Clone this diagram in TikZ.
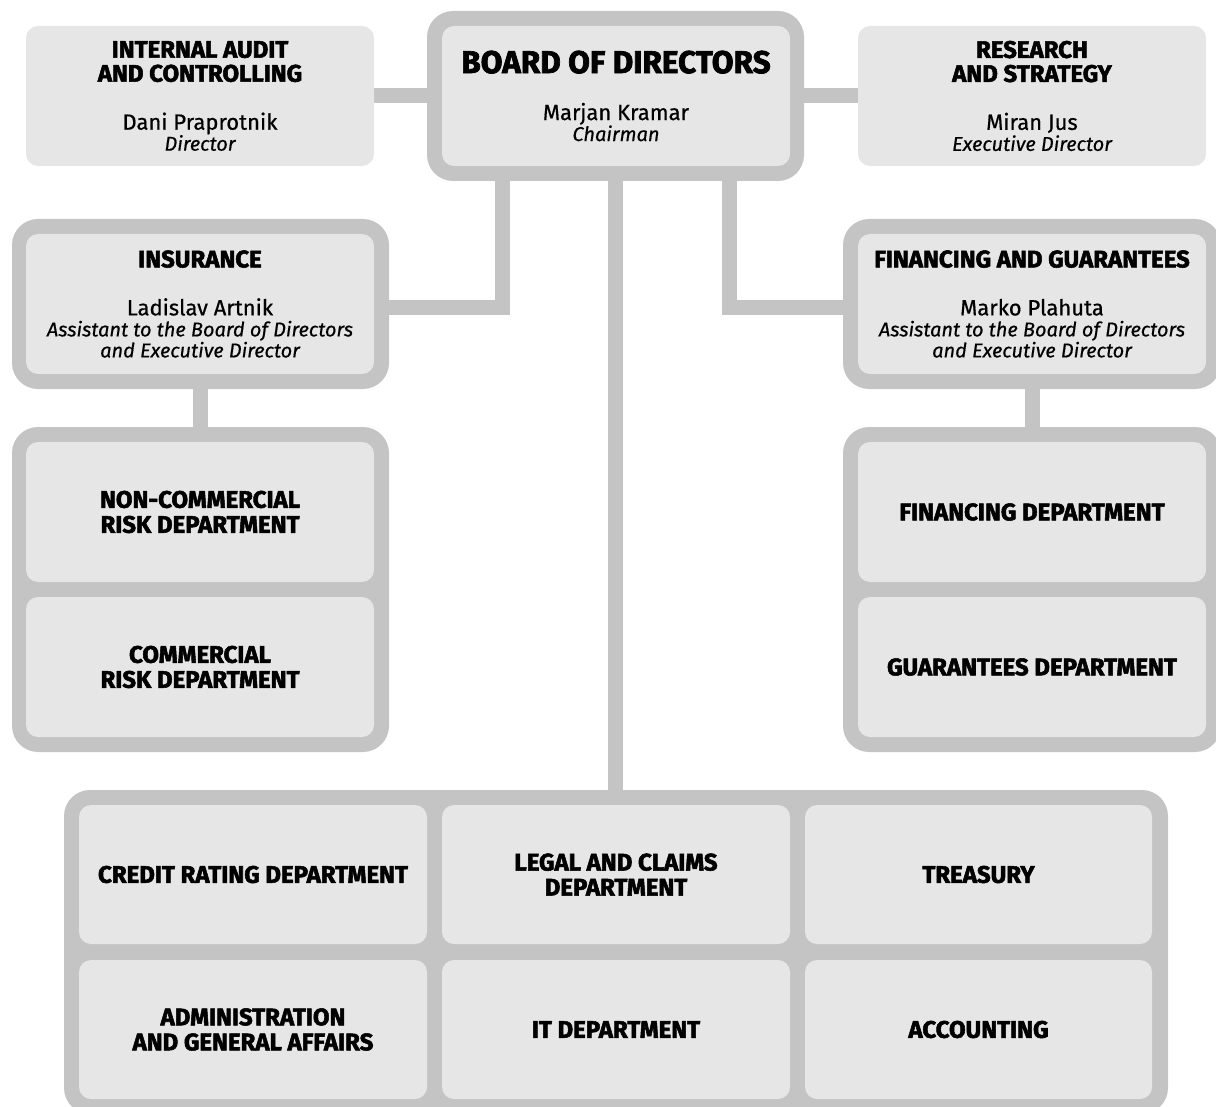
\documentclass[tikz,border=0pt]{standalone}
\usepackage{fontspec}
\setmainfont{Fira Sans}[UprightFeatures={FakeBold=0.6}, ItalicFeatures={FakeBold=0.5}]
\newfontfamily\heavyfam{Fira Sans}[BoldFeatures={FakeBold=2.2}]
\usetikzlibrary{backgrounds}
\definecolor{framegray}{RGB}{196,196,196}
\definecolor{boxfill}{RGB}{230,230,230}
\newcommand\hdfont{\heavyfam\bfseries\fontsize{24}{21}\selectfont}
\newcommand\deptfont{\heavyfam\bfseries\fontsize{24}{25}\selectfont}
\newcommand\nmfont{\fontsize{22}{21}\selectfont}
\newcommand\itfont{\fontsize{20}{21}\itshape\selectfont}
\newcommand\bdfont{\heavyfam\bfseries\fontsize{31.5}{21}\selectfont}
\tikzset{
  grframe/.style={fill=framegray, draw=none, rounded corners=26pt, inner sep=0pt},
  lbox/.style={fill=boxfill, draw=none, rounded corners=12pt, inner sep=0pt, align=center, text=black, font=\nmfont},
  topbox/.style={lbox, minimum width=348pt, minimum height=140pt},
  deptbox/.style={lbox, minimum width=348pt, minimum height=140pt, font=\deptfont},
  link/.style={draw=framegray, line width=15pt},
}
\begin{document}
\begin{tikzpicture}[x=1pt,y=-1pt]
\clip (0,0) rectangle (1216,1107);
% frames
\node[grframe, minimum width=377pt, minimum height=170pt] (boardframe) at (615.5,96) {};
\node[grframe, minimum width=377pt, minimum height=170pt] (insframe) at (200.5,304) {};
\node[grframe, minimum width=378pt, minimum height=170pt] (finframe) at (1032,304) {};
\node[grframe, minimum width=377pt, minimum height=325pt] (leftgroup) at (200.5,589.5) {};
\node[grframe, minimum width=378pt, minimum height=325pt] (rightgroup) at (1032,589.5) {};
\node[grframe, minimum width=1104pt, minimum height=324pt] (bottomgroup) at (616,952) {};
% top row
\node[topbox] (audit) at (200,96) {\hdfont INTERNAL AUDIT\\[3pt]\hdfont AND CONTROLLING\\[27pt]Dani Praprotnik\\\itfont Director};
\node[topbox] (board) at (616,96) {\bdfont BOARD OF DIRECTORS\\[26pt]Marjan Kramar\\\itfont Chairman};
\node[topbox] (research) at (1032,96) {\hdfont RESEARCH\\[3pt]\hdfont AND STRATEGY\\[27pt]Miran Jus\\\itfont Executive Director};
% second row
\node[topbox] (insurance) at (200,304) {\hdfont INSURANCE\\[27pt]Ladislav Artnik\\\itfont Assistant to the Board of Directors\\\itfont and Executive Director};
\node[topbox] (financing) at (1032,304) {\hdfont FINANCING AND GUARANTEES\\[27pt]Marko Plahuta\\\itfont Assistant to the Board of Directors\\\itfont and Executive Director};
% side departments
\node[deptbox] (noncomm) at (200,512) {NON-COMMERCIAL\\RISK DEPARTMENT};
\node[deptbox] (comm) at (200,667) {COMMERCIAL\\RISK DEPARTMENT};
\node[deptbox] (findept) at (1032,512) {FINANCING DEPARTMENT};
\node[deptbox] (guardept) at (1032,667) {GUARANTEES DEPARTMENT};
% bottom departments
\node[deptbox, minimum height=139pt] (credit) at (253,874.5) {CREDIT RATING DEPARTMENT};
\node[deptbox, minimum height=139pt] (legal) at (616,874.5) {LEGAL AND CLAIMS\\DEPARTMENT};
\node[deptbox, minimum height=139pt, minimum width=347pt] (treasury) at (978.5,874.5) {TREASURY};
\node[deptbox, minimum height=139pt] (admin) at (253,1029.5) {ADMINISTRATION\\AND GENERAL AFFAIRS};
\node[deptbox, minimum height=139pt] (itdept) at (616,1029.5) {IT DEPARTMENT};
\node[deptbox, minimum height=139pt, minimum width=347pt] (accounting) at (978.5,1029.5) {ACCOUNTING};
% connectors
\begin{pgfonlayer}{background}
\draw[link] (audit.east) -- (boardframe.west);
\draw[link] (boardframe.east) -- (research.west);
\draw[link] ([xshift=-113pt]boardframe.south) |- ([yshift=-3.5pt]insframe.east);
\draw[link] ([xshift=114pt]boardframe.south) |- ([yshift=-3.5pt]finframe.west);
\draw[link] (boardframe.south) -- (boardframe.south |- bottomgroup.north);
\draw[link] (insframe.south) -- (leftgroup.north);
\draw[link] (finframe.south) -- (rightgroup.north);
\end{pgfonlayer}
\end{tikzpicture}
\end{document}
